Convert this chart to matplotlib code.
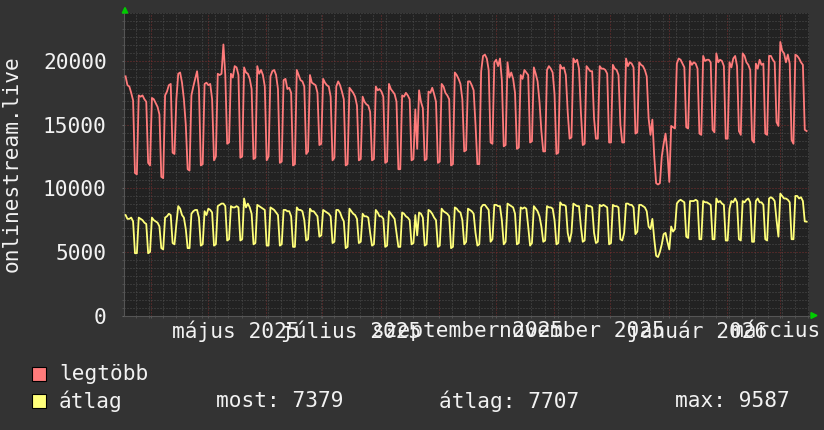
import matplotlib
matplotlib.use("Agg")
import matplotlib.pyplot as plt
import matplotlib.dates as mdates
from matplotlib.ticker import MultipleLocator, NullFormatter
from matplotlib.patches import Rectangle, Polygon
from matplotlib.transforms import blended_transform_factory
import numpy as np
import pandas as pd

# ---------------- data (thousands of listeners, daily samples) ----------------
SAMPLE_START = "2025-03-18 08:00"
X_START = "2025-03-17 12:00"
X_END = "2026-03-16 14:00"
UNIT = 1000

legtobb_k = [
    18.8, 18.1, 18.0, 17.5, 16.9, 11.2, 11.1,
    17.3, 17.2, 17.3, 17.0, 16.8, 12.0, 11.8,
    17.1, 17.0, 16.7, 16.4, 15.8, 10.9, 10.8,
    17.3, 17.6, 18.1, 18.2, 12.8, 12.7, 17.0,
    19.0, 19.1, 18.3, 17.0, 15.0, 11.5, 11.4,
    17.3, 18.0, 18.6, 19.2, 17.8, 11.8, 11.9,
    18.2, 18.3, 18.1, 18.2, 17.0, 12.2, 12.5,
    19.0, 18.9, 19.0, 21.3, 18.9, 13.5, 13.6,
    19.0, 18.7, 19.6, 19.5, 18.9, 12.4, 12.5,
    19.5, 19.1, 19.0, 18.6, 17.8, 12.3, 12.4,
    19.6, 19.0, 19.3, 18.9, 18.0, 12.2, 12.5,
    18.8, 19.2, 19.3, 18.9, 17.8, 12.0, 12.1,
    18.5, 18.6, 17.8, 17.9, 17.5, 11.8, 11.9,
    19.3, 18.9, 18.5, 18.4, 18.0, 12.7, 12.9,
    18.9, 18.3, 18.2, 18.1, 17.5, 13.4, 13.5,
    18.6, 18.3, 18.1, 18.0, 17.2, 12.2, 12.4,
    18.0, 18.4, 18.1, 17.6, 17.0, 11.8, 11.9,
    17.9, 17.7, 17.5, 17.2, 16.5, 12.2, 12.3,
    17.2, 16.8, 16.6, 16.5, 16.0, 12.2, 12.3,
    18.0, 17.7, 17.8, 17.6, 17.2, 12.0, 12.1,
    18.2, 17.8, 17.6, 17.4, 16.8, 11.5, 11.5,
    17.3, 17.2, 17.5, 17.3, 17.0, 12.2, 12.3,
    16.2, 13.1, 17.7, 16.8, 16.3, 12.2, 12.3,
    17.6, 17.5, 17.9, 17.4, 16.8, 12.0, 12.1,
    18.2, 18.0, 17.5, 17.3, 17.0, 11.8, 11.9,
    19.1, 18.9, 18.6, 18.2, 17.0, 12.9, 13.0,
    18.4, 18.4, 18.1, 17.7, 15.0, 11.9, 11.9,
    19.2, 20.4, 20.5, 20.2, 19.3, 13.6, 13.5,
    19.9, 20.1, 19.6, 20.2, 18.5, 13.3, 13.4,
    19.9, 18.7, 19.1, 18.6, 17.5, 13.1, 13.2,
    18.9, 18.6, 19.3, 19.1, 18.9, 13.6, 13.7,
    19.5, 19.0, 18.4, 16.8, 14.5, 12.9, 12.9,
    19.3, 19.6, 19.4, 19.1, 17.4, 12.7, 12.8,
    19.7, 19.4, 19.5, 18.9, 16.0, 13.9, 14.0,
    20.2, 19.9, 20.1, 19.4, 16.0, 13.4, 13.5,
    19.6, 19.4, 19.2, 19.2, 15.5, 13.9, 13.9,
    19.6, 19.4, 19.4, 19.3, 19.0, 13.6, 13.6,
    19.7, 19.4, 19.3, 18.9, 15.0, 13.6, 13.6,
    20.2, 19.6, 19.9, 19.8, 19.5, 14.3, 14.4,
    19.9, 19.7, 19.6, 19.3, 18.8, 15.5, 14.2,
    15.4, 12.5, 10.4, 10.3, 10.4, 12.5, 13.5,
    14.3, 12.8, 10.5, 14.9, 14.8, 14.7, 19.8,
    20.2, 20.1, 19.8, 19.5, 14.8, 14.7, 20.0,
    19.7, 19.9, 19.8, 19.4, 14.3, 14.2, 20.4,
    20.0, 20.1, 20.1, 19.9, 14.6, 14.4, 20.6,
    19.9, 20.1, 20.0, 19.6, 13.9, 13.9, 19.9,
    19.5, 20.2, 20.4, 19.6, 14.5, 14.2, 20.6,
    20.4, 19.9, 19.7, 19.3, 13.8, 13.6, 19.8,
    19.4, 20.1, 19.7, 19.8, 14.3, 14.2, 20.4,
    20.4, 20.1, 19.9, 15.2, 14.9, 21.5, 20.8,
    20.6, 19.9, 20.5, 19.8, 13.8, 13.5, 20.5,
    20.4, 20.2, 19.9, 19.7, 14.6, 14.5,
]

atlag_k = [
    7.9, 7.6, 7.6, 7.7, 7.4, 4.9, 4.9,
    7.7, 7.6, 7.5, 7.3, 7.2, 4.9, 5.0,
    7.7, 7.5, 7.4, 7.3, 7.0, 5.3, 5.2,
    7.7, 7.8, 8.0, 7.9, 5.7, 5.6, 7.2,
    8.6, 8.4, 7.9, 7.7, 6.8, 5.3, 5.3,
    8.0, 8.2, 8.3, 8.3, 7.7, 5.5, 5.6,
    8.2, 7.9, 8.4, 8.3, 8.1, 5.5, 5.6,
    8.6, 8.7, 8.8, 8.8, 8.6, 5.9, 6.0,
    8.6, 8.5, 8.5, 8.6, 8.5, 5.9, 6.0,
    9.2, 8.5, 8.8, 8.5, 8.0, 5.6, 5.7,
    8.7, 8.6, 8.5, 8.4, 8.3, 5.5, 5.5,
    8.5, 8.4, 8.3, 8.1, 7.9, 5.5, 5.6,
    8.3, 8.3, 8.2, 8.2, 7.8, 5.4, 5.4,
    8.5, 8.3, 8.3, 8.2, 7.5, 5.9, 6.0,
    8.4, 8.2, 8.2, 8.0, 7.8, 6.2, 6.3,
    8.3, 8.2, 8.1, 8.0, 7.8, 5.7, 5.8,
    8.3, 8.3, 8.1, 7.7, 7.4, 5.3, 5.4,
    8.4, 8.2, 8.0, 7.9, 7.6, 5.7, 5.8,
    8.0, 7.8, 7.8, 7.7, 6.5, 5.5, 5.6,
    8.3, 8.1, 7.8, 7.8, 7.6, 5.4, 5.5,
    8.2, 8.0, 7.8, 7.6, 6.5, 5.4, 5.4,
    8.1, 8.0, 7.8, 7.7, 7.5, 5.6, 5.7,
    7.9, 6.3, 8.1, 8.0, 7.7, 5.5, 5.6,
    8.3, 8.2, 8.0, 7.7, 7.5, 5.4, 5.5,
    8.4, 8.2, 8.1, 8.0, 7.8, 5.3, 5.4,
    8.5, 8.4, 8.2, 8.1, 7.5, 5.6, 5.8,
    8.4, 8.3, 8.2, 8.0, 6.5, 5.5, 5.6,
    8.5, 8.7, 8.7, 8.5, 8.3, 5.8, 6.0,
    8.7, 8.7, 8.6, 8.6, 7.5, 5.6, 5.8,
    8.8, 8.7, 8.6, 8.5, 8.0, 5.6, 5.7,
    8.5, 8.4, 8.5, 8.4, 7.0, 5.5, 5.7,
    8.6, 8.4, 8.2, 7.8, 7.0, 5.8, 5.9,
    8.6, 8.5, 8.5, 8.4, 7.5, 5.6, 5.7,
    8.9, 8.7, 8.7, 8.6, 6.5, 5.8, 6.5,
    8.8, 8.7, 8.6, 8.6, 7.0, 5.8, 5.9,
    8.7, 8.6, 8.6, 8.5, 6.5, 5.7, 5.8,
    8.7, 8.6, 8.7, 8.6, 8.5, 5.6, 5.7,
    8.7, 8.6, 8.6, 8.5, 6.0, 5.9, 6.5,
    8.8, 8.8, 8.7, 8.7, 8.5, 6.4, 6.6,
    8.7, 8.7, 8.6, 8.5, 8.2, 7.0, 6.8,
    7.6, 6.0, 4.7, 4.6, 5.0, 5.6, 6.4,
    6.5, 5.8, 5.2, 7.0, 6.6, 6.8, 8.8,
    9.0, 9.1, 9.0, 8.9, 6.2, 6.1, 9.0,
    9.0, 9.0, 9.1, 9.0, 6.0, 6.0, 9.0,
    8.9, 8.9, 8.8, 8.7, 6.0, 6.0, 9.2,
    8.9, 9.0, 8.8, 8.7, 5.9, 5.9, 8.4,
    9.0, 8.9, 9.2, 8.9, 6.0, 5.9, 9.0,
    8.9, 9.1, 9.2, 8.9, 5.8, 5.8, 9.0,
    9.2, 8.9, 8.9, 8.7, 6.0, 5.9, 9.2,
    9.3, 9.2, 9.0, 7.5, 6.2, 9.587, 9.4,
    9.2, 9.2, 9.1, 8.9, 6.0, 6.0, 9.4,
    9.4, 9.2, 9.3, 9.0, 7.4, 7.379,
]

series_names = ["legtöbb", "átlag"]
series_colors = ["#ff7b7b", "#ffff7a"]
month_labels = ["május 2025", "július 2025", "szeptember 2025",
                "november 2025", "január 2026", "március 2026"]
month_label_dates = ["2025-05-16", "2025-07-16", "2025-09-16",
                     "2025-11-16", "2026-01-16", "2026-03-16"]
yticks = [0, 5000, 10000, 15000, 20000]
y_max = 23750
y_title = "onlinestream.live"
stats = [("most:", "7379"), ("átlag:", "7707"), ("max:", "9587")]

# ---------------- figure ----------------
W, H = 824, 430
BG = "#333333"
PLOT_BG = "#222222"
TXT = "#f2f2f2"
FONT = "DejaVu Sans Mono"
FS = 15.2

fig = plt.figure(figsize=(W / 100, H / 100), dpi=100, facecolor=BG)
L, R, T, B = 124, 809, 13.3, 315.6
ax = fig.add_axes([L / W, 1 - B / H, (R - L) / W, (B - T) / H])
ax.set_facecolor(PLOT_BG)

dates = pd.date_range(SAMPLE_START, periods=len(legtobb_k), freq="D")
red = np.array(legtobb_k) * UNIT
yel = np.array(atlag_k) * UNIT

ax.plot(dates, red, color=series_colors[0], lw=1.3, zorder=3)
ax.plot(dates, yel, color=series_colors[1], lw=1.3, zorder=4)

ax.set_xlim(pd.Timestamp(X_START), pd.Timestamp(X_END))
ax.set_ylim(0, y_max)

# grid
ax.xaxis.set_major_locator(mdates.MonthLocator())
ax.xaxis.set_minor_locator(mdates.WeekdayLocator(byweekday=mdates.MO))
ax.xaxis.set_major_formatter(NullFormatter())
ax.yaxis.set_major_locator(MultipleLocator(5000))
ax.yaxis.set_minor_locator(MultipleLocator(625))
ax.set_yticks(yticks)
ax.set_yticklabels([str(v) for v in yticks], fontfamily=FONT, fontsize=FS, color=TXT)

dot = (0, (1, 2))
ax.grid(which="minor", color="#4f4f4f", lw=0.72, linestyle=dot, zorder=1)
ax.grid(which="major", color="#7a2e2e", lw=0.72, linestyle=dot, zorder=1)
ax.set_axisbelow(True)

ax.tick_params(axis="y", which="major", length=1.5, pad=11, colors="#666666", labelcolor=TXT)
ax.tick_params(axis="y", which="minor", length=1.5, colors="#555555")
ax.tick_params(axis="x", which="both", length=1.5, colors="#555555")
for s in ["top", "right"]:
    ax.spines[s].set_visible(False)
for s in ["left", "bottom"]:
    ax.spines[s].set_color("#555555")
    ax.spines[s].set_linewidth(0.8)

# month labels
tr = blended_transform_factory(ax.transData, fig.transFigure)
for lab, d in zip(month_labels, month_label_dates):
    ax.text(mdates.date2num(pd.Timestamp(d)), 1 - 331 / H, lab, transform=tr,
            ha="center", va="center", fontfamily=FONT, fontsize=FS, color=TXT,
            clip_on=False)

# y title
fig.text(12 / W, 1 - 164 / H, y_title, rotation=90, ha="center", va="center",
         fontfamily=FONT, fontsize=FS, color=TXT)

# arrows
fig.patches.append(Polygon([[122.3 / W, 1 - 13 / H], [127.7 / W, 1 - 13 / H], [125 / W, 1 - 7.5 / H]],
                           closed=True, transform=fig.transFigure, color="#00cc00"))
fig.patches.append(Polygon([[811 / W, 1 - 312.6 / H], [811 / W, 1 - 318.4 / H], [817 / W, 1 - 315.5 / H]],
                           closed=True, transform=fig.transFigure, color="#00cc00"))

# legend
rows_y = [374, 401]
for name, col, yy in zip(series_names, series_colors, rows_y):
    fig.patches.append(Rectangle((32 / W, 1 - (yy + 7) / H), 14 / W, 14 / H,
                                 transform=fig.transFigure, facecolor=col,
                                 edgecolor="#000000", lw=0.8))
    fig.text(59 / W, 1 - yy / H, name, ha="left", va="center",
             fontfamily=FONT, fontsize=FS, color=TXT)

for (k, v), xx in zip(stats, [216, 439, 675]):
    fig.text(xx / W, 1 - rows_y[1] / H, f"{k} {v}", ha="left", va="center",
             fontfamily=FONT, fontsize=FS, color=TXT)

fig.savefig("out.png", dpi=100, facecolor=BG)
